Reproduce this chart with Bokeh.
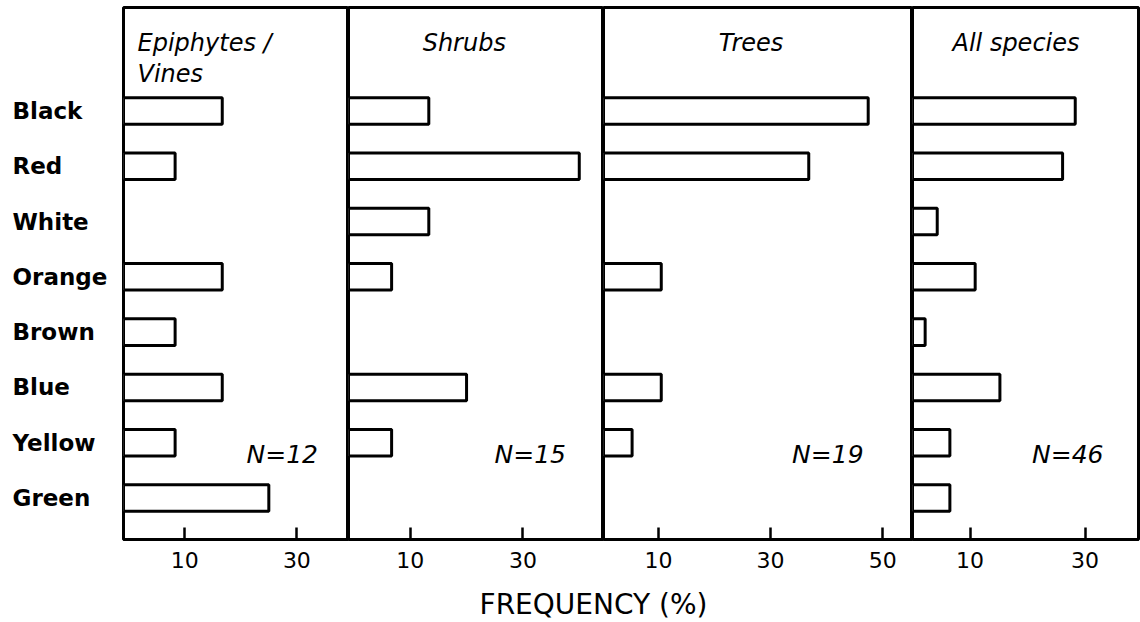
from bokeh.plotting import figure
from bokeh.models import Range1d, FixedTicker
from bokeh.layouts import row, column
from bokeh.embed import file_html
from bokeh.resources import INLINE
from bokeh.core.properties import value

# ---------------- data ----------------
colors = ["Black", "Red", "White", "Orange", "Brown", "Blue", "Yellow", "Green"]
panel_titles = ["Epiphytes /\nVines", "Shrubs", "Trees", "All species"]
sample_sizes = [12, 15, 19, 46]
epiphytes_vines = [16.7, 8.3, 0, 16.7, 8.3, 16.7, 8.3, 25.0]
shrubs = [13.3, 40.0, 13.3, 6.7, 0, 20.0, 6.7, 0]
trees = [47.4, 36.8, 0, 10.5, 0, 10.5, 5.3, 0]
all_species = [28.3, 26.1, 4.3, 10.9, 2.2, 15.2, 6.5, 6.5]
tick_values = [[10, 30], [10, 30], [10, 30, 50], [10, 30]]
axis_title = "FREQUENCY (%)"

series = [epiphytes_vines, shrubs, trees, all_species]

# ---------------- layout / style ----------------
FONT = value("DejaVu Sans")
LABEL_W = 122
PANEL_W = [225, 255, 309, 226]
BORDER_L = [1, 0, 0, 0]
BORDER_R = [0, 0, 0, 2]
X_RANGES = [(-0.9, 39.2), (-0.95, 44.3), (0.2, 55.3), (0.0, 39.3)]
TITLE_X = [1.6, 19.6, 26.5, 18.0]
TITLE_ALIGN = ["left", "center", "center", "center"]
TITLE_Y = -1.22
LINE_STEP = 0.56
N_X = [27.4, 31.3, 40.2, 27.0]
N_Y = 6.21
TOP = 7
FRAME_H = 532
BOTTOM = 41
ROW_H = TOP + FRAME_H + BOTTOM
TOTAL_W = LABEL_W + sum(PANEL_W) + sum(BORDER_L) + sum(BORDER_R)
FOOT_H = 622 - ROW_H

yr = Range1d(7.75, -1.87)

common = dict(toolbar_location=None, output_backend="svg",
              background_fill_color="white", border_fill_color="white")

# category label column
f0 = figure(width=LABEL_W, height=ROW_H, x_range=Range1d(0, LABEL_W), y_range=yr,
            x_axis_location=None, y_axis_location=None,
            min_border_left=0, min_border_right=0,
            min_border_top=TOP, min_border_bottom=BOTTOM, **common)
f0.outline_line_color = None
f0.grid.visible = False
f0.text(x=12, y=list(range(len(colors))), text=colors, text_font=FONT,
        text_font_style="bold", text_font_size="23px",
        text_baseline="middle", text_align="left", text_color="black")

panels = [f0]
for i, vals in enumerate(series):
    xs, xe = X_RANGES[i]
    p = figure(width=PANEL_W[i] + BORDER_L[i] + BORDER_R[i], height=ROW_H,
               x_range=Range1d(xs, xe), y_range=yr,
               y_axis_location=None,
               min_border_left=BORDER_L[i], min_border_right=BORDER_R[i],
               min_border_top=TOP, min_border_bottom=BOTTOM, **common)
    p.outline_line_color = "black"
    p.outline_line_width = 3
    p.grid.visible = False

    ax = p.xaxis[0]
    ax.ticker = FixedTicker(ticks=tick_values[i])
    ax.axis_line_width = 3
    ax.axis_line_color = "black"
    ax.major_tick_in = 12
    ax.major_tick_out = 0
    ax.major_tick_line_width = 2.5
    ax.major_tick_line_color = "black"
    ax.minor_tick_line_color = None
    ax.major_label_standoff = 12
    ax.major_label_text_font = "DejaVu Sans"
    ax.major_label_text_font_size = "22px"
    ax.major_label_text_color = "black"

    ys = [k for k, v in enumerate(vals) if v > 0]
    rs = [v for v in vals if v > 0]
    p.hbar(y=ys, left=xs, right=rs, height=0.48, fill_color="white",
           line_color="black", line_width=3)

    for k, line in enumerate(panel_titles[i].split("\n")):
        p.text(x=[TITLE_X[i]], y=[TITLE_Y + k * LINE_STEP], text=[line],
               text_font=FONT, text_font_style="italic", text_font_size="24px",
               text_align=TITLE_ALIGN[i], text_baseline="alphabetic",
               text_color="black")

    p.text(x=[N_X[i]], y=[N_Y], text=[f"N={sample_sizes[i]}"],
           text_font=FONT, text_font_style="italic", text_font_size="25px",
           text_align="center", text_baseline="alphabetic", text_color="black")
    panels.append(p)

fb = figure(width=TOTAL_W, height=FOOT_H, x_range=Range1d(0, TOTAL_W),
            y_range=Range1d(FOOT_H, 0),
            x_axis_location=None, y_axis_location=None, min_border=0, **common)
fb.outline_line_color = None
fb.grid.visible = False
fb.text(x=[593], y=[24], text=[axis_title], text_font=FONT, text_font_size="28px",
        text_align="center", text_baseline="middle", text_color="black")

layout = column(row(*panels), fb)

open("out.html", "w").write(file_html(layout, INLINE))
